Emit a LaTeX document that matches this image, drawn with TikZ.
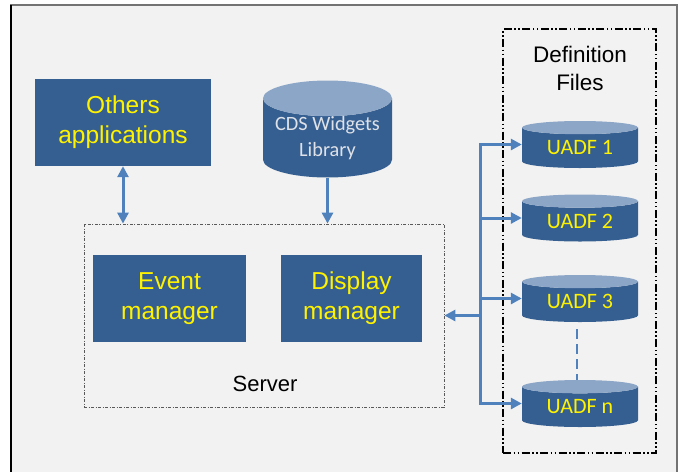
\documentclass[tikz,border=0pt]{standalone}
\usepackage{fontspec}
\setmainfont{Liberation Sans}
\newfontfamily\calibri{Carlito}
\usepackage{xcolor}
\usetikzlibrary{arrows.meta,positioning,shapes.geometric}
\definecolor{boxblue}{RGB}{54,95,145}
\definecolor{toplight}{RGB}{140,166,199}
\definecolor{arrowblue}{RGB}{79,129,189}
\definecolor{bggray}{RGB}{242,242,242}
\definecolor{cdstext}{RGB}{222,226,232}
\tikzset{
  appbox/.style={rectangle, fill=boxblue, text=yellow, align=center,
    font=\fontsize{24.5}{30}\selectfont, inner sep=0pt},
  store/.style={cylinder, shape border rotate=90, cylinder uses custom fill,
    cylinder body fill=boxblue, cylinder end fill=toplight, align=center,
    anchor=shape center, inner sep=0pt, text=yellow,
    font=\calibri\fontsize{22}{26}\selectfont},
  srvbox/.style={rectangle, draw=black!65, line width=0.8pt,
    dash pattern=on 3pt off 1.5pt on 1pt off 1.5pt},
  defbox/.style={rectangle, draw=black, line width=1.3pt,
    dash pattern=on 8pt off 2.5pt on 1.5pt off 2.5pt on 1.5pt off 2.5pt},
  caption/.style={align=center, text=black, inner sep=0pt},
  tr/.style={-{Triangle[length=11pt,width=11pt]}, draw=arrowblue, line width=3pt},
  trboth/.style={{Triangle[length=11pt,width=11pt]}-{Triangle[length=11pt,width=11pt]},
    draw=arrowblue, line width=3pt},
}

\begin{document}
\begin{tikzpicture}[x=1pt, y=-1pt]
  \useasboundingbox (0,0) rectangle (681,472);
  \fill[bggray] (11,5) rectangle (677,472);
  \draw[black!55, line width=1.3pt] (11,472) -- (11,5) -- (677,5) -- (677,472);
  \draw[black, line width=1.5pt] (11,5) -- (11,472);

  % server side
  \node[srvbox, minimum width=360pt, minimum height=183pt] (server) at (264,315.5) {};
  \node[caption, font=\fontsize{22}{26}\selectfont] (srvname) at (265,384) {Server};
  \node[appbox, minimum width=153pt, minimum height=87pt] (event) at (169.5,298.5) {Event\\manager};
  \node[appbox, minimum width=141pt, minimum height=87pt] (display) at (351.5,298.5) {Display\\manager};
  \node[appbox, minimum width=176pt, minimum height=87pt] (others) at (123,122.5) {Others\\applications};
  \node[store, minimum width=129pt, minimum height=92pt, aspect=0.34, text=cdstext,
    font=\calibri\fontsize{20.3}{26}\selectfont] (cds) at (327.5,129) {CDS Widgets\\Library};

  % definition files
  \node[defbox, minimum width=153pt, minimum height=424pt] (deffiles) at (579.5,241) {};
  \node[caption, font=\fontsize{22.5}{28}\selectfont] (deflabel) at (580,68) {Definition\\Files};
  \node[store, minimum width=116pt, minimum height=47pt, aspect=0.2] (uadf1) at (580,144.5) {UADF 1};
  \node[store, minimum width=116pt, minimum height=47pt, aspect=0.2] (uadf2) at (580,218) {UADF 2};
  \node[store, minimum width=116pt, minimum height=47pt, aspect=0.2] (uadf3) at (580,298.5) {UADF 3};
  \node[store, minimum width=116pt, minimum height=47pt, aspect=0.2] (uadfn) at (580,403.5) {UADF n};
  \draw[arrowblue, line width=1.5pt, dash pattern=on 10pt off 5pt] (uadf3.south) ++(-3,7) coordinate (gapa) -- (gapa |- uadfn.north);

  % connectors
  \coordinate (bus) at (480,315.5);
  \draw[trboth] (others.south) -- (others.south |- server.north);
  \draw[tr] (cds.south) -- (cds.south |- server.north);
  \draw[tr] (bus) -- (server.east);
  \draw[tr] (bus) |- (uadf1.west |- uadf1.shape center);
  \draw[tr] (bus) |- (uadf2.west |- uadf2.shape center);
  \draw[tr] (bus) |- (uadf3.west |- uadf3.shape center);
  \draw[tr] (bus) |- (uadfn.west |- uadfn.shape center);
\end{tikzpicture}
\end{document}
